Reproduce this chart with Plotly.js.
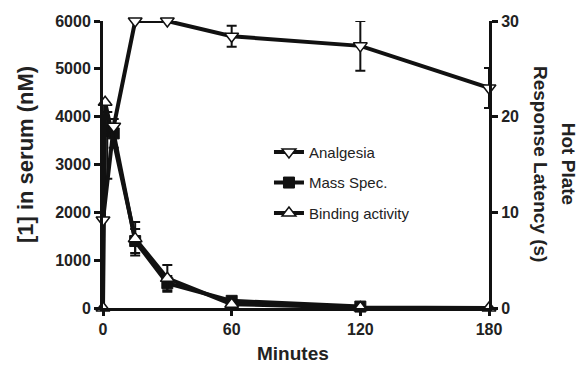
<!DOCTYPE html>
<html><head><meta charset="utf-8">
<script src="https://cdn.plot.ly/plotly-3.0.1.min.js"></script>
<style>html,body{margin:0;padding:0;background:#fff}#c{width:582px;height:365px}</style>
</head><body><div id="c"></div>
<script>
// Analgesia (right axis, s)
const analTime = [0, 5, 15, 30, 60, 120, 180];
const analVal = [9.2, 19.0, 30, 30, 28.4, 27.4, 23.0];
const analErr = [0, 0, 0, 0, 1.1, 2.6, 2.1];
// Mass spec (left axis, nM)
const msTime = [2, 5, 15, 30, 60, 120];
const msVal = [3700, 3650, 1400, 520, 150, 30];
const msErrPlus = [400, 300, 250, 150, 60, 20];
const msErrMinus = [1000, 300, 250, 150, 60, 20];
// Binding activity (left axis, nM)
const bindTime = [0, 1, 15, 30, 60, 120, 180];
const bindVal = [0, 4300, 1450, 620, 80, 10, 0];
const bindErr = [0, 0, 350, 280, 80, 10, 0];

const xTicks = [0, 60, 120, 180];
const yLeftTicks = [0, 1000, 2000, 3000, 4000, 5000, 6000];
const yRightTicks = [0, 10, 20, 30];

const FONT = 'Liberation Sans, Arial, sans-serif';
const lineStyle = {color: '#111', width: 4};
const ebar = (plus, minus) => ({type: 'data', symmetric: false, array: plus, arrayminus: minus || plus,
  visible: true, color: '#111', thickness: 2, width: 5});

const traces = [
  {x: analTime, y: analVal, yaxis: 'y2', name: 'Analgesia', mode: 'lines+markers', legendgroup: 'a',
   line: lineStyle, error_y: ebar(analErr), cliponaxis: false,
   marker: {symbol: 'triangle-down', size: 12, color: '#fff', line: {color: '#111', width: 1.5}}},
  {x: msTime, y: msVal, name: 'Mass Spec.', mode: 'lines+markers', legendgroup: 'b',
   line: lineStyle, error_y: ebar(msErrPlus, msErrMinus), cliponaxis: false,
   marker: {symbol: 'square', size: 11, color: '#111', line: {color: '#111', width: 1}}},
  {x: bindTime, y: bindVal, name: 'Binding activity', mode: 'lines+markers', legendgroup: 'c',
   line: lineStyle, error_y: ebar(bindErr), cliponaxis: false,
   marker: {symbol: 'triangle-up', size: 12, color: '#fff', line: {color: '#111', width: 1.5}}}
];

const tickFont = {family: FONT, size: 16, color: '#222', weight: 'bold'};
const axisBase = {showgrid: false, zeroline: false, showline: true, linecolor: '#111', linewidth: 3,
  ticks: 'outside', ticklen: 6, tickwidth: 3, tickcolor: '#111', tickfont: tickFont};
const layout = {
  width: 582, height: 365,
  margin: {l: 103, r: 93, t: 21, b: 57},
  paper_bgcolor: '#fff', plot_bgcolor: '#fff',
  showlegend: true,
  legend: {x: 0.43, y: 0.60, xanchor: 'left', yanchor: 'top', bgcolor: 'rgba(0,0,0,0)',
    font: {family: FONT, size: 15, color: '#222'},
    traceorder: 'grouped', tracegroupgap: 8},
  xaxis: Object.assign({}, axisBase, {range: [0, 180], tickvals: xTicks, ticktext: xTicks.map(String), ticklen: 5}),
  yaxis: Object.assign({}, axisBase, {range: [0, 6000], tickvals: yLeftTicks, ticktext: yLeftTicks.map(String)}),
  yaxis2: Object.assign({}, axisBase, {range: [0, 30], overlaying: 'y', side: 'right',
    tickvals: yRightTicks, ticktext: yRightTicks.map(String)}),
  annotations: [
    {text: 'Minutes', xref: 'paper', yref: 'paper', x: 0.492, y: -0.160, showarrow: false,
     xanchor: 'center', yanchor: 'middle', font: {family: FONT, size: 19, color: '#222', weight: 'bold'}},
    {text: '[1] in serum (nM)', xref: 'paper', yref: 'paper', x: -0.202, y: 0.533, textangle: -90,
     showarrow: false, xanchor: 'center', yanchor: 'middle', font: {family: FONT, size: 22, color: '#222', weight: 'bold'}},
    {text: 'Hot Plate', xref: 'paper', yref: 'paper', x: 1.205, y: 0.502, textangle: 90,
     showarrow: false, xanchor: 'center', yanchor: 'middle', font: {family: FONT, size: 19, color: '#222', weight: 'bold'}},
    {text: 'Response Latency (s)', xref: 'paper', yref: 'paper', x: 1.132, y: 0.502, textangle: 90,
     showarrow: false, xanchor: 'center', yanchor: 'middle', font: {family: FONT, size: 19, color: '#222', weight: 'bold'}}
  ]
};
Plotly.newPlot('c', traces, layout, {displayModeBar: false, staticPlot: true});
</script></body></html>
